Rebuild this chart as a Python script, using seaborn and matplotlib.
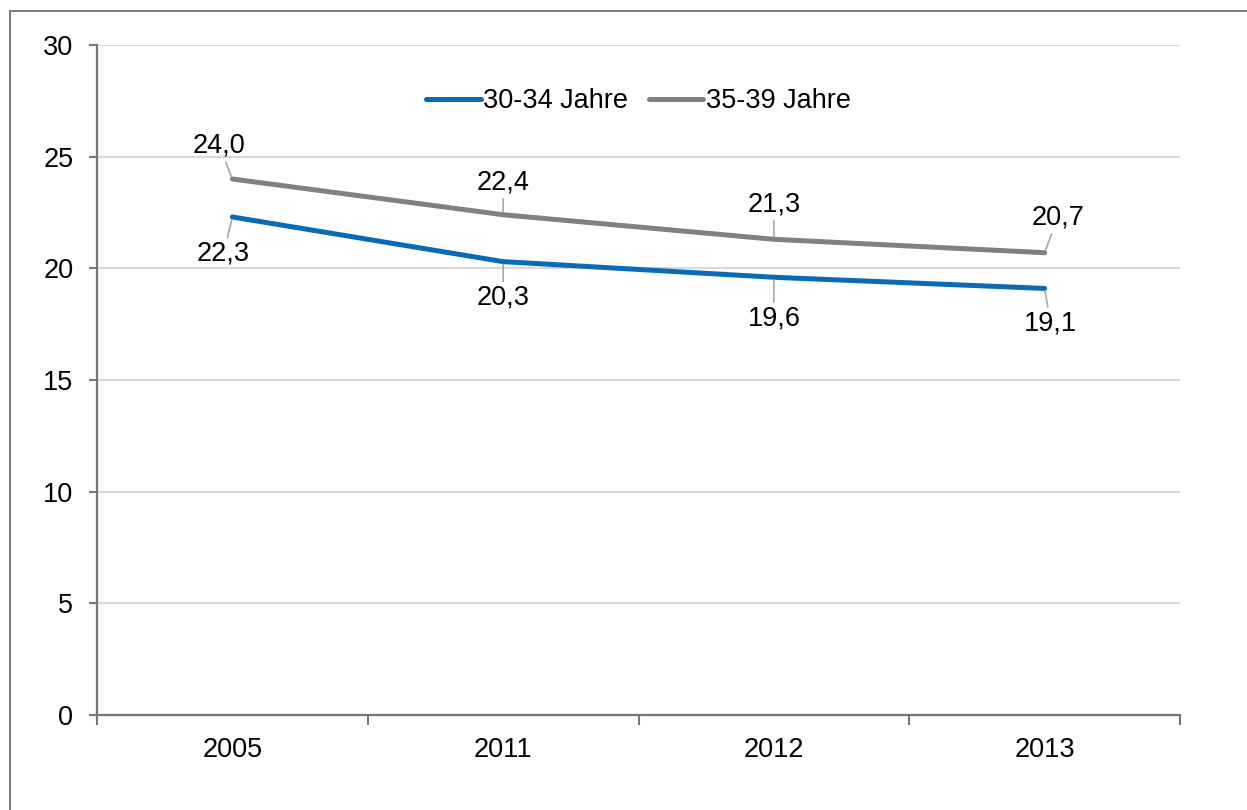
import numpy as np
import pandas as pd
import matplotlib
matplotlib.use("Agg")
import matplotlib.pyplot as plt
from matplotlib.patches import Rectangle
from matplotlib.ticker import FixedLocator
import seaborn as sns

# Data
years = ["2005", "2011", "2012", "2013"]
series_names = ["30-34 Jahre", "35-39 Jahre"]
values_30_34 = [22.3, 20.3, 19.6, 19.1]
values_35_39 = [24.0, 22.4, 21.3, 20.7]
y_ticks = [0, 5, 10, 15, 20, 25, 30]

colors = {"30-34 Jahre": "#0A6AB6", "35-39 Jahre": "#808080"}

# label offsets in pixels (text centre relative to the point)
label_offsets = {
    "30-34 Jahre": [(-9, -37), (0, -36), (0, -41), (6, -35)],
    "35-39 Jahre": [(-13, 33), (0, 32), (0, 35), (13, 35)],
}

FS = 19.5

df = pd.DataFrame({
    "pos": list(range(len(years))) * 2,
    "value": values_30_34 + values_35_39,
    "series": [series_names[0]] * len(years) + [series_names[1]] * len(years),
})

sns.set_theme(style="white")
plt.rcParams["font.family"] = ["Liberation Sans", "DejaVu Sans"]
plt.rcParams["text.color"] = "black"

fig = plt.figure(figsize=(12.47, 8.10), dpi=100)
ax = fig.add_axes([97 / 1247, 1 - 715 / 810, (1180 - 97) / 1247, (715 - 45) / 810])

sns.lineplot(data=df, x="pos", y="value", hue="series", palette=colors,
             linewidth=3.6, ax=ax, legend=True, sort=False)
for line in ax.lines:
    line.set_solid_capstyle("round")
    line.set_solid_joinstyle("round")

ax.set_xlim(-0.5, len(years) - 0.5)
ax.set_ylim(0, 30)
ax.set_yticks(y_ticks)
ax.set_yticklabels([str(t) for t in y_ticks])
ax.set_xticks(range(len(years)))
ax.set_xticklabels(years)
ax.xaxis.set_minor_locator(FixedLocator(np.arange(-0.5, len(years), 1.0)))
ax.set_xlabel("")
ax.set_ylabel("")

ax.grid(axis="y", color="#d9d9d9", linewidth=1.5)
ax.set_axisbelow(True)
for side in ["top", "right"]:
    ax.spines[side].set_visible(False)
for side in ["left", "bottom"]:
    ax.spines[side].set_color("#767676")
    ax.spines[side].set_linewidth(1.6)

ax.tick_params(axis="y", which="major", length=6, width=1.5, color="#767676",
               pad=11, labelsize=FS, labelcolor="black", left=True)
ax.tick_params(axis="x", which="major", length=0, pad=16, labelsize=FS, labelcolor="black")
ax.tick_params(axis="x", which="minor", length=7, width=1.5, color="#767676",
               direction="out", bottom=True)

# data labels with leader lines
for name, vals in [(series_names[0], values_30_34), (series_names[1], values_35_39)]:
    for i, v in enumerate(vals):
        dx, dy = label_offsets[name][i]
        ax.annotate(f"{v:.1f}".replace(".", ","), xy=(i, v), xytext=(dx, dy),
                    textcoords="offset pixels", ha="center", va="center",
                    fontsize=FS, color="black",
                    arrowprops=dict(arrowstyle="-", color="#a6a6a6", lw=1.2,
                                    shrinkA=0, shrinkB=2))

leg = ax.legend(loc="center", bbox_to_anchor=(0.5, 0.916), ncol=2, frameon=False,
                fontsize=FS, handlelength=2.0, handletextpad=0.1, columnspacing=0.75,
                borderaxespad=0)
for h in leg.get_lines():
    h.set_linewidth(3.6)
    h.set_solid_capstyle("round")
for t in leg.get_texts():
    t.set_color("black")

# outer chart border
fig.patches.append(Rectangle((10 / 1247, -0.05), 1.2, 1 - 11 / 810 + 0.05,
                             transform=fig.transFigure, fill=False,
                             edgecolor="#707070", linewidth=1.3, zorder=0))

fig.savefig("out.png", dpi=100)
